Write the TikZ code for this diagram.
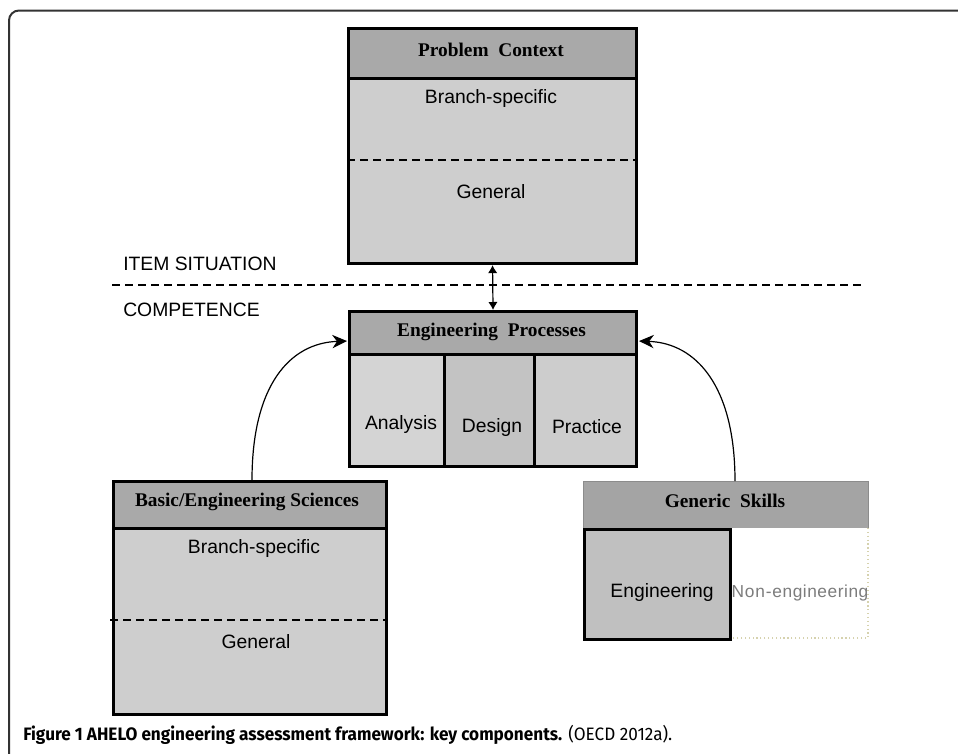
\documentclass[tikz,border=0pt]{standalone}
\usepackage{fontspec}
\setmainfont{Liberation Sans}
\newfontfamily\hdfont{Liberation Serif}
\newfontfamily\capfont{Fira Sans}
\usetikzlibrary{arrows.meta,calc}
\definecolor{hdgray}{HTML}{A9A9A9}
\definecolor{bodygray}{HTML}{CECECE}
\definecolor{anagray}{HTML}{D4D4D4}
\definecolor{desgray}{HTML}{C3C3C3}
\definecolor{pragray}{HTML}{CDCDCD}
\definecolor{gshead}{HTML}{A4A4A4}
\definecolor{gsline}{HTML}{8C8C8C}
\definecolor{enggray}{HTML}{C0C0C0}
\definecolor{dotcol}{HTML}{D6D2AE}
\definecolor{nongray}{HTML}{7C7C7C}
\definecolor{framecol}{HTML}{333333}
\newsavebox\capbox
\sbox\capbox{\capfont\fontsize{13.5}{15}\selectfont\textbf{Figure 1 AHELO engineering assessment framework: key components.} (OECD 2012a).}
\begin{document}
\begin{tikzpicture}[x=0.75pt,y=-0.75pt,
  boxhd/.style={draw=black,fill=hdgray,line width=2.3pt,inner sep=0pt,anchor=north west},
  boxbd/.style={draw=black,fill=bodygray,line width=2.3pt,inner sep=0pt,anchor=north west},
  hdtext/.style={font=\hdfont\bfseries\fontsize{14.5}{17}\selectfont,inner sep=0pt},
  lbl/.style={font=\fontsize{14.5}{17}\selectfont,inner sep=0pt},
  dline/.style={dash pattern=on 6pt off 3.75pt,line width=0.9pt},
  curvearr/.style={line width=0.9pt,-{Stealth[length=11pt,width=10pt,inset=3.5pt]}},
  dblarr/.style={line width=0.9pt,{Latex[length=6pt,width=7pt]}-{Latex[length=6pt,width=7pt]}}
]
\useasboundingbox (0,0) rectangle (958,754);
% frame
\draw[framecol,line width=1.5pt,rounded corners=7.5pt] (9,754) -- (9,10.5) -- (960,10.5);

% Problem Context
\node[boxbd,minimum width=216pt,minimum height=138.75pt] (pcbody) at (347,77) {};
\node[boxhd,minimum width=216pt,minimum height=37.5pt] (pchead) at (347,27) {};
\draw[dline] (347,160) -- (635,160);
\node[hdtext] (pct) at (491,50) {Problem\ \ Context};
\node[lbl] (pcb) at (491,98) {Branch-specific};
\node[lbl] (pcg) at (491,192) {General};

% Item situation / competence
\node[lbl,anchor=west] (item) at (123,264) {ITEM SITUATION};
\node[lbl,anchor=west] (comp) at (123,310) {COMPETENCE};
\draw[dline] (112,285) -- (862,285);

% Engineering Processes
\node[draw=black,fill=anagray,line width=2.3pt,inner sep=0pt,anchor=north west,minimum width=71.25pt,minimum height=84pt] (ana) at (348,353) {};
\node[draw=black,fill=desgray,line width=2.3pt,inner sep=0pt,anchor=north west,minimum width=67.5pt,minimum height=84pt] (des) at (443,353) {};
\node[draw=black,fill=pragray,line width=2.3pt,inner sep=0pt,anchor=north west,minimum width=76.5pt,minimum height=84pt] (pra) at (533,353) {};
\node[boxhd,minimum width=215.25pt,minimum height=32.25pt] (ephead) at (348,310) {};
\node[hdtext] (ept) at (491.5,332) {Engineering\ \ Processes};
\node[lbl] (anat) at (401,424) {Analysis};
\node[lbl] (dest) at (492,427) {Design};
\node[lbl] (prat) at (587,427) {Practice};

% Basic/Engineering Sciences
\node[boxbd,minimum width=204.75pt,minimum height=139.5pt] (bbody) at (112,527) {};
\node[boxhd,minimum width=204.75pt,minimum height=35.25pt] (bhead) at (112,480) {};
\draw[dline] (110,620) -- (385,620);
\node[hdtext] (bt) at (247,502) {Basic/Engineering Sciences};
\node[lbl] (bb) at (254,548) {Branch-specific};
\node[lbl] (bg) at (256,642) {General};

% Generic Skills
\node[draw=gsline,fill=gshead,line width=0.9pt,inner sep=0pt,anchor=north west,minimum width=213.75pt,minimum height=35.25pt] (gshd) at (583,481) {};
\node[hdtext] (gst) at (725,501) {Generic\ \ Skills};
\node[draw=none,fill=white,inner sep=0pt,anchor=north west,minimum width=104.25pt,minimum height=82.5pt] (noneng) at (729,528) {};
\draw[dotcol,line width=0.9pt,dotted] (868,528) -- (868,638) -- (729,638);
\node[draw=black,fill=enggray,line width=2.3pt,inner sep=0pt,anchor=north west,minimum width=109.5pt,minimum height=82.5pt] (eng) at (583,528) {};
\node[lbl] (engt) at (662,592) {Engineering};
\node[font=\fontsize{13}{15}\selectfont,text=nongray,inner sep=0pt] (nont) at (800,593) {N\kern0.6pt o\kern0.6pt n\kern0.6pt -\kern0.6pt e\kern0.4pt n\kern0.4pt g\kern0.4pt i\kern0.4pt n\kern0.4pt e\kern0.4pt e\kern0.4pt r\kern0.4pt i\kern0.4pt n\kern0.4pt g};

% connectors
\draw[dblarr] (pcbody.south) -- (ephead.north);
\coordinate (bstart) at ($(bhead.north west)+(140,0)$);
\coordinate (gstart) at ($(gshd.north west)+(152,0)$);
\coordinate (epl) at ($(ephead.west)+(-1,8)$);
\coordinate (epr) at ($(ephead.east)+(1,8)$);
\draw[curvearr] (bstart) .. controls ($(bstart)+(0,-95)$) and ($(epl)+(-57,2)$) .. (epl);
\draw[curvearr] (gstart) .. controls ($(gstart)+(0,-95)$) and ($(epr)+(57,2)$) .. (epr);

% caption
\node[anchor=west,inner sep=0pt] (cap) at (23,735) {\resizebox{486.75pt}{\height}{\usebox\capbox}};
\end{tikzpicture}
\end{document}
